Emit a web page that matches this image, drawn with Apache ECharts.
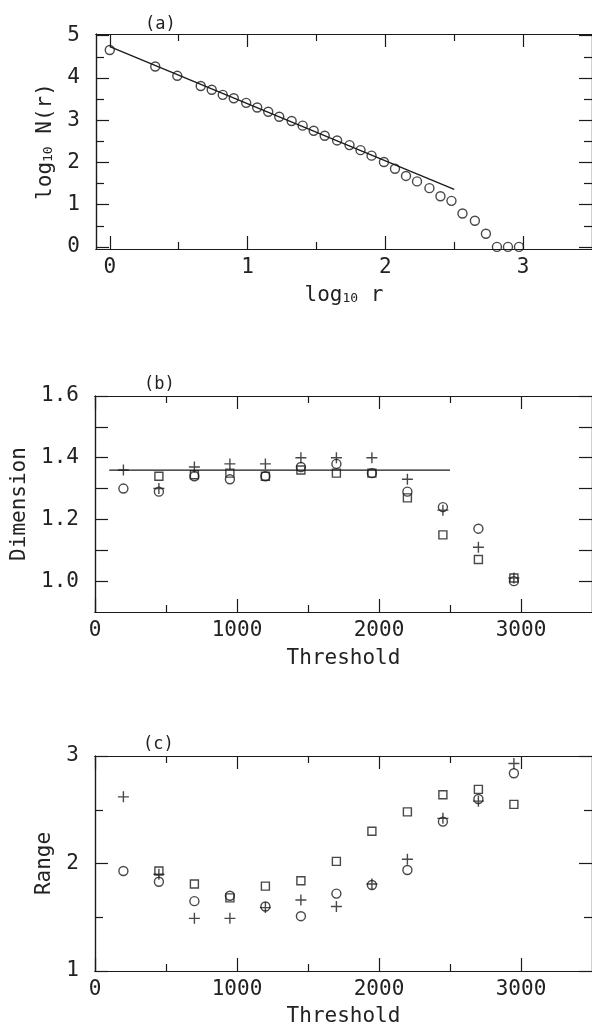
<!DOCTYPE html>
<html>
<head>
<meta charset="utf-8">
<script src="https://cdn.jsdelivr.net/npm/echarts@6/dist/echarts.min.js"></script>
<style>
html,body{margin:0;padding:0;background:#fff;}
#c{width:592px;height:1028px;}
</style>
</head>
<body>
<div id="c"></div>
<script>
// ---------- Panel (a) ----------
const aLogR = [0, 0.33, 0.49, 0.66, 0.74, 0.82, 0.90, 0.99, 1.07, 1.15, 1.23, 1.32, 1.40, 1.48, 1.56, 1.65, 1.74, 1.82, 1.90, 1.99, 2.07, 2.15, 2.23, 2.32, 2.40, 2.48, 2.56, 2.65, 2.73, 2.81, 2.89, 2.97];
const aLogN = [4.66, 4.27, 4.05, 3.81, 3.72, 3.60, 3.52, 3.41, 3.30, 3.20, 3.08, 2.98, 2.87, 2.75, 2.63, 2.52, 2.41, 2.29, 2.16, 2.01, 1.85, 1.68, 1.55, 1.39, 1.20, 1.09, 0.79, 0.62, 0.31, 0.0, 0.0, 0.0];
const aFitX = [0, 2.5];
const aFitY = [4.74, 1.36];
const aXMajor = [0, 1, 2, 3];
const aXMinor = [0.5, 1.5, 2.5];
const aYMajor = [0, 1, 2, 3, 4, 5];
const aYMinor = [0.5, 1.5, 2.5, 3.5, 4.5];

// ---------- Panels (b) and (c) ----------
const thresholds = [200, 450, 700, 950, 1200, 1450, 1700, 1950, 2200, 2450, 2700, 2950];
const bCircle = [1.30, 1.29, 1.34, 1.33, 1.34, 1.37, 1.38, 1.35, 1.29, 1.24, 1.17, 1.00];
const bPlus   = [1.36, 1.30, 1.37, 1.38, 1.38, 1.40, 1.40, 1.40, 1.33, 1.23, 1.11, 1.01];
const bSquare = [null, 1.34, 1.345, 1.35, 1.34, 1.36, 1.35, 1.35, 1.27, 1.15, 1.07, 1.01];
const bFitX = [100, 2500];
const bFitY = [1.36, 1.36];
const bYMajor = [1.0, 1.2, 1.4, 1.6];
const bYMinor = [1.1, 1.3, 1.5];

const cCircle = [1.93, 1.83, 1.65, 1.70, 1.60, 1.51, 1.72, 1.80, 1.94, 2.39, 2.60, 2.84];
const cPlus   = [2.62, 1.90, 1.49, 1.49, 1.59, 1.66, 1.60, 1.81, 2.04, 2.42, 2.58, 2.93];
const cSquare = [null, 1.93, 1.81, 1.68, 1.79, 1.84, 2.02, 2.30, 2.48, 2.64, 2.69, 2.55];
const cYMajor = [1, 2, 3];
const cYMinor = [1.5, 2.5];

const thXMajor = [0, 1000, 2000, 3000];
const thXMinor = [500, 1500, 2500];

const FONT = 'DejaVu Sans Mono';
const INK = '#1a1a1a';
const TXT = '#222';
const lineStyle = {color: INK, width: 1.2};
const richName = {n: {fontFamily: FONT, fontSize: 21, color: TXT}, s: {fontFamily: FONT, fontSize: 13, color: TXT, padding: [6, 0, 0, 0]}};

function xAxes(g, min, max, majors, minors, name, nameGap, fmt) {
  const base = {gridIndex: g, type: 'value', min: min, max: max, splitLine: {show: false},
    axisLine: {show: true, onZero: false, lineStyle: lineStyle}};
  return [
    Object.assign({}, base, {position: 'bottom', name: name, nameLocation: 'middle', nameGap: nameGap,
      nameTextStyle: {fontFamily: FONT, fontSize: 21, color: TXT, rich: richName},
      axisTick: {show: true, inside: true, length: 13, customValues: majors, lineStyle: lineStyle},
      axisLabel: {show: true, customValues: majors, margin: 8, fontFamily: FONT, fontSize: 21, color: TXT, formatter: fmt}}),
    Object.assign({}, base, {position: 'bottom', axisTick: {show: true, inside: true, length: 7, customValues: minors, lineStyle: lineStyle}, axisLabel: {show: false}}),
    Object.assign({}, base, {position: 'top', axisTick: {show: true, inside: true, length: 13, customValues: majors, lineStyle: lineStyle}, axisLabel: {show: false}}),
    Object.assign({}, base, {position: 'top', axisTick: {show: true, inside: true, length: 7, customValues: minors, lineStyle: lineStyle}, axisLabel: {show: false}})
  ];
}
function yAxes(g, min, max, majors, minors, name, nameGap, fmt, minorLen) {
  const base = {gridIndex: g, type: 'value', min: min, max: max, splitLine: {show: false},
    axisLine: {show: true, onZero: false, lineStyle: lineStyle}};
  return [
    Object.assign({}, base, {position: 'left', name: name, nameLocation: 'middle', nameGap: nameGap,
      nameTextStyle: {fontFamily: FONT, fontSize: 21, color: TXT, rich: richName},
      axisTick: {show: true, inside: true, length: 13, customValues: majors, lineStyle: lineStyle},
      axisLabel: {show: true, customValues: majors, margin: 16, fontFamily: FONT, fontSize: 21, color: TXT, formatter: fmt}}),
    Object.assign({}, base, {position: 'left', axisTick: {show: true, inside: true, length: minorLen, customValues: minors, lineStyle: lineStyle}, axisLabel: {show: false}}),
    Object.assign({}, base, {position: 'right', axisTick: {show: true, inside: true, length: 13, customValues: majors, lineStyle: lineStyle}, axisLabel: {show: false}}),
    Object.assign({}, base, {position: 'right', axisTick: {show: true, inside: true, length: minorLen, customValues: minors, lineStyle: lineStyle}, axisLabel: {show: false}})
  ];
}

const intFmt = v => String(Math.round(v));
const oneDec = v => v.toFixed(1);

const xAxis = [].concat(
  xAxes(0, -0.1, 3.5, aXMajor, aXMinor, '{n|log}{s|10}{n| r}', 36, intFmt),
  xAxes(1, 0, 3500, thXMajor, thXMinor, 'Threshold', 36, intFmt),
  xAxes(2, 0, 3500, thXMajor, thXMinor, 'Threshold', 35, intFmt)
);
const yAxis = [].concat(
  yAxes(0, -0.05, 5.04, aYMajor, aYMinor, '{n|log}{s|10}{n| N(r)}', 25, intFmt, 8),
  yAxes(1, 0.9, 1.6, bYMajor, bYMinor, 'Dimension', 54, oneDec, 13),
  yAxes(2, 1, 3, cYMajor, cYMinor, 'Range', 29, intFmt, 8)
);

const hollow = {color: 'transparent', borderColor: INK, borderWidth: 1.4};
const PLUS = 'path://M0,5L10,5M5,0L5,10';
function pts(xs, ys) { return xs.map((x, i) => ys[i] == null ? null : [x, ys[i]]).filter(p => p); }
function scat(g, xs, ys, symbol, size) {
  return {type: 'scatter', xAxisIndex: g * 4, yAxisIndex: g * 4, data: pts(xs, ys),
    symbol: symbol, symbolSize: size, itemStyle: hollow, silent: true};
}
function fit(g, xs, ys) {
  return {type: 'line', xAxisIndex: g * 4, yAxisIndex: g * 4, data: pts(xs, ys), symbol: 'none',
    lineStyle: {color: INK, width: 1.3}, silent: true};
}

const titleStyle = {fontFamily: FONT, fontSize: 17, fontWeight: 'normal', color: TXT};
const option = {
  backgroundColor: '#fff',
  animation: false,
  title: [
    {text: '(a)', left: 140, top: 11, textStyle: titleStyle},
    {text: '(b)', left: 139, top: 371, textStyle: titleStyle},
    {text: '(c)', left: 138, top: 731, textStyle: titleStyle}
  ],
  grid: [
    {left: 96, top: 34, width: 500, height: 215},
    {left: 95, top: 396, width: 498, height: 216},
    {left: 95, top: 756, width: 498, height: 216}
  ],
  xAxis: xAxis,
  yAxis: yAxis,
  series: [
    fit(0, aFitX, aFitY),
    scat(0, aLogR, aLogN, 'circle', 9),
    fit(1, bFitX, bFitY),
    scat(1, thresholds, bCircle, 'circle', 9),
    scat(1, thresholds, bSquare, 'rect', 8),
    scat(1, thresholds, bPlus, PLUS, 11),
    scat(2, thresholds, cCircle, 'circle', 9),
    scat(2, thresholds, cSquare, 'rect', 8),
    scat(2, thresholds, cPlus, PLUS, 11)
  ]
};

const chart = echarts.init(document.getElementById('c'), null, {renderer: 'canvas'});
chart.setOption(option);
</script>
</body>
</html>
